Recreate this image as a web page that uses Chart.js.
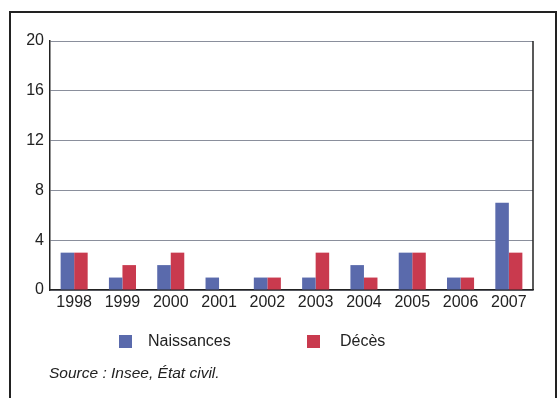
<!DOCTYPE html>
<html>
<head>
<meta charset="utf-8">
<script src="https://cdn.jsdelivr.net/npm/chart.js@4/dist/chart.umd.min.js"></script>
<style>
  html, body { margin: 0; padding: 0; background: #fff; }
  #frame {
    position: absolute; left: 9px; top: 11px; width: 544px; height: 390px;
    border: 2px solid #222; border-bottom: none;
  }
  #wrap { position: absolute; left: 0; top: 0; width: 557px; height: 398px; }
</style>
</head>
<body>
<div id="frame"></div>
<div id="wrap"><canvas id="chart" width="557" height="398"></canvas></div>
<script>
// années
var years = ['1998', '1999', '2000', '2001', '2002', '2003', '2004', '2005', '2006', '2007'];
var naissances = [3, 1, 2, 1, 1, 1, 2, 3, 1, 7];
var deces = [3, 2, 3, 0, 1, 3, 1, 3, 1, 3];
var yTicks = [0, 4, 8, 12, 16, 20];
var sourceText = 'Source : Insee, État civil.';

var FONT = '"Liberation Sans", Arial, sans-serif';

// bord droit du graphique, légende et source
var extras = {
    id: 'extras',
    afterDraw: function (chart) {
        var ctx = chart.ctx;
        var a = chart.chartArea;
        ctx.save();
        ctx.strokeStyle = '#222';
        ctx.lineWidth = 1.5;
        ctx.beginPath();
        ctx.moveTo(a.right, a.top);
        ctx.lineTo(a.right, a.bottom);
        ctx.stroke();

        // légende
        var items = [[119, 148], [307, 340]];
        ctx.font = '16px ' + FONT;
        ctx.textBaseline = 'middle';
        chart.data.datasets.forEach(function (ds, i) {
            ctx.fillStyle = ds.backgroundColor;
            ctx.fillRect(items[i][0], 335, 13, 13);
            ctx.fillStyle = '#222';
            ctx.fillText(ds.label, items[i][1], 342);
        });

        ctx.font = 'italic 15.5px ' + FONT;
        ctx.fillText(sourceText, 49, 374);
        ctx.restore();
    }
};

new Chart(document.getElementById('chart'), {
    type: 'bar',
    data: {
        labels: years,
        datasets: [{
            label: 'Naissances',
            data: naissances,
            backgroundColor: '#5a6aac'
        }, {
            label: 'Décès',
            data: deces,
            backgroundColor: '#c93a4e'
        }]
    },
    options: {
        responsive: false,
        animation: false,
        layout: { padding: { left: 10, top: 41, right: 24, bottom: 80 } },
        datasets: { bar: { categoryPercentage: 0.56, barPercentage: 1 } },
        plugins: { legend: { display: false }, tooltip: { enabled: false } },
        scales: {
            x: {
                grid: { display: false, drawTicks: false },
                border: { color: '#222', width: 1.5 },
                ticks: { color: '#222', padding: 3, font: { family: FONT, size: 16 } },
                afterFit: function (s) { s.height = 28; }
            },
            y: {
                min: 0,
                max: 20,
                afterBuildTicks: function (s) {
                    s.ticks = yTicks.map(function (v) { return { value: v }; });
                },
                grid: { color: '#8a8f9c', lineWidth: 1, drawTicks: false },
                border: { color: '#222', width: 1.5 },
                ticks: { color: '#222', padding: 6, font: { family: FONT, size: 16 } },
                afterFit: function (s) { s.width = 40; }
            }
        }
    },
    plugins: [extras]
});
</script>
</body>
</html>
